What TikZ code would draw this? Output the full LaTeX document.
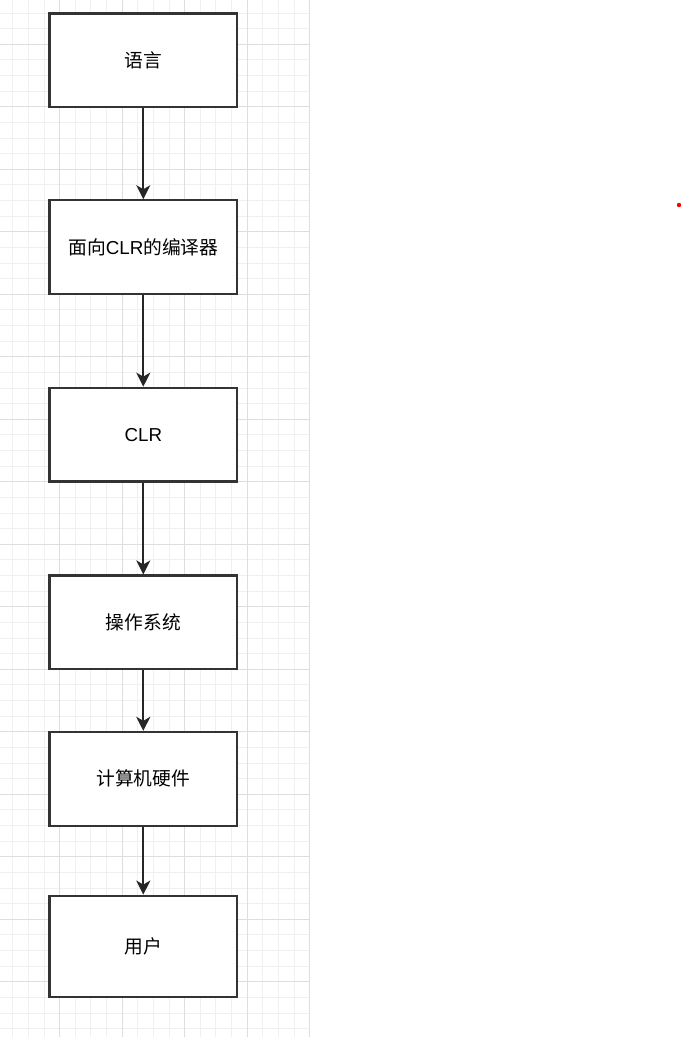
\documentclass[tikz,border=0pt]{standalone}
\usepackage{fontspec}
\setmainfont{Liberation Sans}
\newfontfamily\cjk{Noto Sans CJK SC}
\usetikzlibrary{arrows.meta}

\tikzset{
  minorline/.style={draw=black!6, line width=1pt},
  majorline/.style={draw=black!13, line width=1pt},
  stepbox/.style={draw=black!80, line width=2.2pt, fill=white,
    minimum width=187.5pt, minimum height=93.75pt, inner sep=0pt,
    font=\fontsize{18.75}{22}\selectfont},
  flow/.style={draw=black!85, line width=2pt,
    -{Stealth[length=14pt, width=14pt, inset=4pt]}},
}

\begin{document}
\begin{tikzpicture}[x=1pt, y=-1pt]
  % page
  \fill[white] (0,0) rectangle (682,1037);
  \useasboundingbox (0,0) rectangle (682,1037);

  % background grid on the left strip
  \begin{scope}
    \clip (0,0) rectangle (310.2,1037);
    \foreach \k in {0,...,19}
      \draw[minorline] ({12.8+15.625*\k},0) -- ({12.8+15.625*\k},1037);
    \foreach \k in {1,...,66}
      \draw[minorline] (0,{-2.6+15.625*\k}) -- (310.2,{-2.6+15.625*\k});
    \foreach \k in {0,...,4}
      \draw[majorline] ({59.7+62.5*\k},0) -- ({59.7+62.5*\k},1037);
    \foreach \k in {0,...,15}
      \draw[majorline] (0,{44.2+62.5*\k}) -- (310.2,{44.2+62.5*\k});
  \end{scope}

  % flow steps
  \node[stepbox] (lang) at (143.3,60.3) {\cjk 语言};
  \node[stepbox] (comp) at (143.3,247.2) {{\cjk 面向}CLR{\cjk 的编译器}};
  \node[stepbox] (clr)  at (143.3,434.6) {CLR};
  \node[stepbox] (os)   at (143.3,622.4) {\cjk 操作系统};
  \node[stepbox] (hw)   at (143.3,778.8) {\cjk 计算机硬件};
  \node[stepbox, minimum height=101.6pt] (user) at (143.3,946.5) {\cjk 用户};

  % connectors
  \draw[flow] (lang) -- (comp);
  \draw[flow] (comp) -- (clr);
  \draw[flow] (clr)  -- (os);
  \draw[flow] (os)   -- (hw);
  \draw[flow] (hw)   -- (user);

  % small red marker
  \fill[red] (679,205) circle (2.2pt);
\end{tikzpicture}
\end{document}
